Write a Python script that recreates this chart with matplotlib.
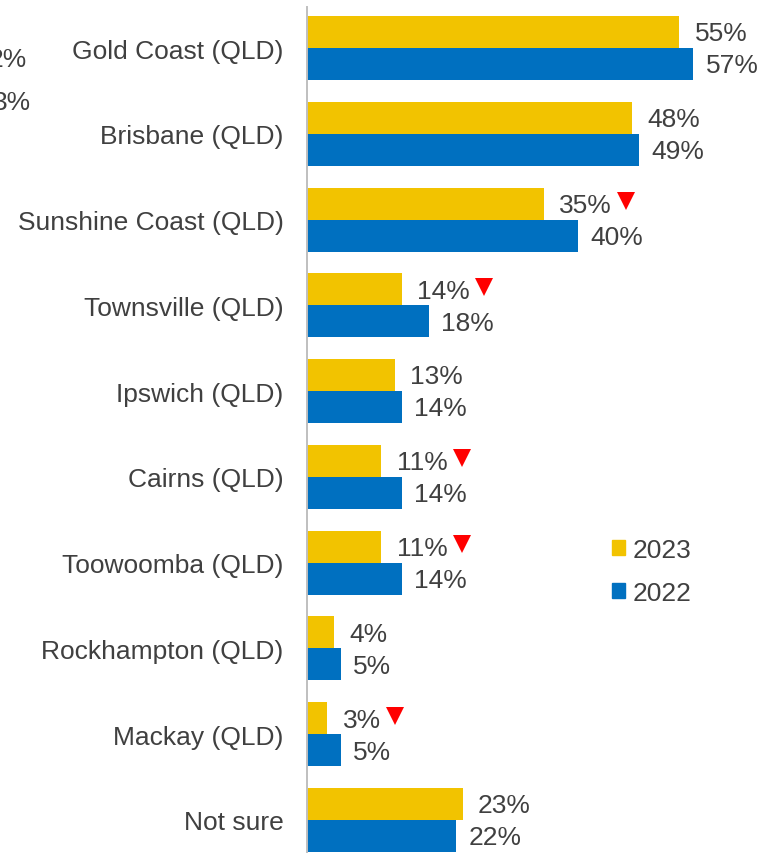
import matplotlib

matplotlib.use("Agg")

import matplotlib.pyplot as plt
import numpy as np
from matplotlib.patches import Patch

CATEGORIES = [
    "Gold Coast (QLD)",
    "Brisbane (QLD)",
    "Sunshine Coast (QLD)",
    "Townsville (QLD)",
    "Ipswich (QLD)",
    "Cairns (QLD)",
    "Toowoomba (QLD)",
    "Rockhampton (QLD)",
    "Mackay (QLD)",
    "Not sure",
]
VALUES_2023 = [55, 48, 35, 14, 13, 11, 11, 4, 3, 23]
VALUES_2022 = [57, 49, 40, 18, 14, 14, 14, 5, 5, 22]
# significant decline markers next to the 2023 value
DECLINE_2023 = [False, False, True, True, False, True, True, False, True, False]
# fragments of the neighbouring chart visible at the left edge
EDGE_FRAGMENTS = ["2%", "3%"]

YELLOW = "#F2C300"
BLUE = "#0070C0"
TEXT = "#404040"
FONT = 19

plt.rcParams["font.family"] = ["Liberation Sans", "DejaVu Sans"]

fig = plt.figure(figsize=(7.58, 8.54), dpi=100)
ax = fig.add_axes([307 / 758, 0, 1 - 307 / 758, 846 / 854])

y = np.arange(len(CATEGORIES))
h = 0.373
ax.barh(y - h / 2, VALUES_2023, height=h, color=YELLOW, label="2023")
ax.barh(y + h / 2, VALUES_2022, height=h, color=BLUE, label="2022")

labels_2023 = []
for i, (v23, v22) in enumerate(zip(VALUES_2023, VALUES_2022)):
    t = ax.annotate(f"{v23}%", xy=(v23, i - h / 2), xytext=(11, -1),
                    textcoords="offset points", va="center", ha="left",
                    fontsize=FONT, color=TEXT)
    labels_2023.append(t)
    ax.annotate(f"{v22}%", xy=(v22, i + h / 2), xytext=(9, -1),
                textcoords="offset points", va="center", ha="left",
                fontsize=FONT, color=TEXT)

ax.set_xlim(0, 66.6)
ax.set_ylim(9.385, -0.478)
ax.set_yticks(y)
ax.set_yticklabels(CATEGORIES, fontsize=FONT, color=TEXT)
ax.tick_params(axis="y", length=0, pad=17)
ax.set_xticks([])
for side in ["top", "right", "bottom"]:
    ax.spines[side].set_visible(False)
ax.spines["left"].set_color("#BFBFBF")
ax.spines["left"].set_linewidth(1.4)

# red down-triangles placed just after the 2023 label text
fig.canvas.draw()
renderer = fig.canvas.get_renderer()
inv = ax.transData.inverted()
for i, t in enumerate(labels_2023):
    if not DECLINE_2023[i]:
        continue
    bb = t.get_window_extent(renderer)
    px = bb.x1 + 14
    py = (bb.y0 + bb.y1) / 2 + 4
    xd, yd = inv.transform((px, py))
    ax.plot(xd, yd, marker="v", markersize=13.5, color="#FF0000",
            markeredgewidth=0, clip_on=False)

handles = [Patch(color=YELLOW, label="2023"), Patch(color=BLUE, label="2022")]
fig.legend(handles=handles, loc="upper left", bbox_to_anchor=(588 / 758, 1 - 515 / 854),
           frameon=False, fontsize=FONT, labelcolor=TEXT, handlelength=0.5,
           handleheight=0.5, handletextpad=0.3, labelspacing=0.72)

fig.text(27 / 758, 1 - 60 / 854, EDGE_FRAGMENTS[0], ha="right", va="center",
         fontsize=FONT, color=TEXT)
fig.text(31 / 758, 1 - 103 / 854, EDGE_FRAGMENTS[1], ha="right", va="center",
         fontsize=FONT, color=TEXT)

fig.savefig("out.png", dpi=100)
